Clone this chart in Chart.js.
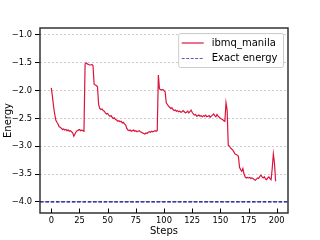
<!DOCTYPE html>
<html>
<head>
<meta charset="utf-8">
<script src="https://cdn.jsdelivr.net/npm/chart.js@4"></script>
<style>
html,body{margin:0;padding:0;background:#fff;}
#c{display:block;}
</style>
</head>
<body>
<canvas id="c" width="320" height="240"></canvas>
<script>
const seriesLabel = 'ibmq_manila';
const exactLabel = 'Exact energy';
const exactEnergy = -4.0;
const xTicks = [0, 25, 50, 75, 100, 125, 150, 175, 200];
const yTicks = [-4.0, -3.5, -3.0, -2.5, -2.0, -1.5, -1.0];
const energies = [
 -1.95,-2.10,-2.28,-2.42,-2.53,-2.57,-2.60,-2.65,-2.66,-2.68,
 -2.70,-2.69,-2.71,-2.70,-2.72,-2.71,-2.73,-2.72,-2.74,-2.76,
 -2.82,-2.78,-2.74,-2.72,-2.71,-2.70,-2.72,-2.71,-2.72,-2.73,
 -1.52,-1.50,-1.52,-1.53,-1.54,-1.54,-1.53,-1.55,-1.88,-1.90,
 -1.91,-1.93,-2.25,-2.32,-2.34,-2.33,-2.36,-2.37,-2.40,-2.42,
 -2.41,-2.44,-2.46,-2.45,-2.48,-2.50,-2.49,-2.52,-2.53,-2.55,
 -2.54,-2.56,-2.55,-2.58,-2.57,-2.60,-2.62,-2.68,-2.71,-2.72,
 -2.71,-2.73,-2.72,-2.71,-2.73,-2.72,-2.74,-2.73,-2.72,-2.74,
 -2.75,-2.76,-2.77,-2.78,-2.76,-2.77,-2.75,-2.74,-2.75,-2.73,
 -2.74,-2.73,-2.72,-2.73,-2.72,-1.72,-1.97,-1.98,-1.99,-1.98,
 -2.00,-2.02,-2.22,-2.25,-2.28,-2.30,-2.32,-2.31,-2.34,-2.36,
 -2.35,-2.37,-2.36,-2.38,-2.37,-2.39,-2.38,-2.36,-2.38,-2.40,
 -2.39,-2.37,-2.40,-2.38,-2.35,-2.39,-2.42,-2.44,-2.43,-2.46,
 -2.45,-2.44,-2.46,-2.45,-2.47,-2.45,-2.46,-2.44,-2.47,-2.46,
 -2.45,-2.48,-2.46,-2.44,-2.42,-2.45,-2.47,-2.43,-2.46,-2.48,
 -2.50,-2.51,-2.52,-2.54,-2.55,-2.22,-2.35,-2.98,-3.00,-3.03,
 -3.05,-3.07,-3.10,-3.14,-3.15,-3.16,-3.18,-3.38,-3.42,-3.45,
 -3.40,-3.50,-3.55,-3.57,-3.56,-3.57,-3.56,-3.58,-3.57,-3.58,
 -3.60,-3.61,-3.59,-3.57,-3.58,-3.54,-3.52,-3.55,-3.57,-3.55,
 -3.59,-3.60,-3.57,-3.55,-3.58,-3.60,-3.40,-3.14,-3.30,-3.63
];
const steps = energies.map((_, i) => i);

const lineColor = '#DC143C';
const exactColor = '#00008B';
const legendExactColor = '#5a5ab4';
const FONT = '"DejaVu Sans", sans-serif';

const fmt = v => (v < 0 ? '\u2212' : '') + Math.abs(v).toFixed(1);

const extras = {
  id: 'extras',
  afterDatasetsDraw(chart) {
    const {ctx, chartArea: a, scales: {x, y}} = chart;
    ctx.save();
    // exact energy line
    const ey = y.getPixelForValue(exactEnergy);
    ctx.strokeStyle = exactColor;
    ctx.lineWidth = 1.2;
    ctx.setLineDash([3.7, 1.6]);
    ctx.beginPath();
    ctx.moveTo(a.left, ey);
    ctx.lineTo(a.right, ey);
    ctx.stroke();
    ctx.setLineDash([]);
    // frame
    ctx.strokeStyle = '#333';
    ctx.lineWidth = 1.5;
    ctx.strokeRect(a.left, a.top, a.right - a.left, a.bottom - a.top);
    // inward x ticks
    ctx.strokeStyle = '#000';
    ctx.lineWidth = 1;
    xTicks.forEach(v => {
      const px = Math.round(x.getPixelForValue(v)) + 0.5;
      ctx.beginPath();
      ctx.moveTo(px, a.bottom);
      ctx.lineTo(px, a.bottom - 4.5);
      ctx.stroke();
    });
    // legend
    ctx.font = '10px ' + FONT;
    const items = [
      {label: seriesLabel, color: lineColor, dash: []},
      {label: exactLabel, color: legendExactColor, dash: [3, 1.5]}
    ];
    const textW = Math.max(...items.map(it => ctx.measureText(it.label).width));
    const bw = 33 + textW + 6;
    const bh = 34;
    const bx = a.right - 5 - bw;
    const by = a.top + 5;
    ctx.fillStyle = 'rgba(255,255,255,0.85)';
    ctx.strokeStyle = '#cccccc';
    ctx.lineWidth = 1;
    ctx.beginPath();
    ctx.roundRect(bx + 0.5, by + 0.5, bw, bh, 2);
    ctx.fill();
    ctx.stroke();
    items.forEach((it, i) => {
      const cy = by + 10 + i * 15.5;
      ctx.strokeStyle = it.color;
      ctx.lineWidth = 1.2;
      ctx.setLineDash(it.dash);
      ctx.beginPath();
      ctx.moveTo(bx + 3.5, cy);
      ctx.lineTo(bx + 25.5, cy);
      ctx.stroke();
      ctx.setLineDash([]);
      ctx.fillStyle = '#000';
      ctx.textBaseline = 'middle';
      ctx.textAlign = 'left';
      ctx.fillText(it.label, bx + 33.5, cy);
    });
    ctx.restore();
  }
};

new Chart(document.getElementById('c'), {
  type: 'line',
  data: {
    datasets: [{
      label: seriesLabel,
      data: energies.map((v, i) => ({x: steps[i], y: v})),
      borderColor: lineColor,
      borderWidth: 1.2,
      pointRadius: 0,
      tension: 0,
      fill: false
    }]
  },
  options: {
    responsive: false,
    animation: false,
    devicePixelRatio: 1,
    layout: {padding: {left: 0, top: 28, right: 32, bottom: 0}},
    plugins: {legend: {display: false}, tooltip: {enabled: false}},
    scales: {
      x: {
        type: 'linear',
        min: -10, max: 210,
        afterBuildTicks: s => { s.ticks = xTicks.map(v => ({value: v})); },
        afterFit: s => { s.height = 27; },
        grid: {display: false, drawTicks: false},
        border: {display: false},
        ticks: {color: '#000', font: {family: FONT, size: 8.3}, padding: 3, maxRotation: 0,
                callback: v => String(v)},
        title: {display: true, text: 'Steps', color: '#000', font: {family: FONT, size: 10},
                padding: {top: 0, bottom: 3}}
      },
      y: {
        min: -4.2, max: -0.875,
        afterBuildTicks: s => { s.ticks = yTicks.map(v => ({value: v})); },
        afterFit: s => { s.width = 40; },
        grid: {color: '#c0c0c0', lineWidth: 0.8, drawTicks: true, tickLength: 5,
               tickColor: '#000', tickWidth: 1, tickBorderDash: []},
        border: {display: false, dash: [2, 2]},
        ticks: {color: '#000', font: {family: FONT, size: 8.3}, padding: 3, callback: v => fmt(v)},
        title: {display: true, text: 'Energy', color: '#000', font: {family: FONT, size: 10},
                padding: {top: 2, bottom: 0}}
      }
    }
  },
  plugins: [extras]
});
</script>
</body>
</html>
